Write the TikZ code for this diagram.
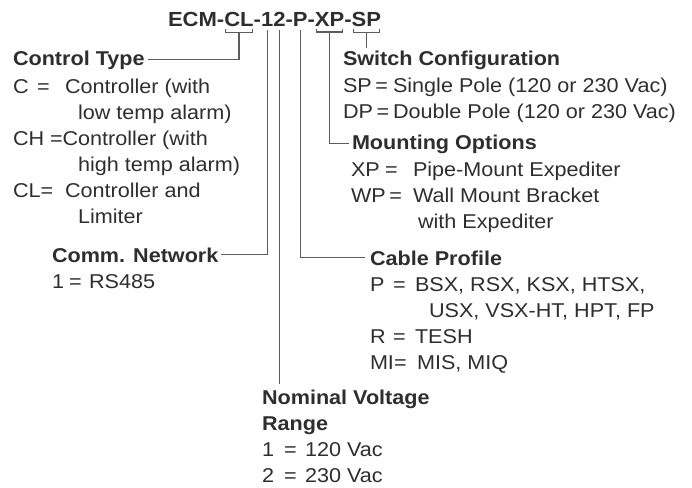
\documentclass[tikz,border=0pt]{standalone}
\usepackage{fontspec}
\setmainfont{Liberation Sans}
\usetikzlibrary{calc}
\definecolor{ink}{HTML}{2E2E2E}
\definecolor{wire}{HTML}{5C5C5C}
\begin{document}
\begin{tikzpicture}[x=1pt,y=-1pt,
  txt/.style={anchor=base west,inner sep=0pt,outer sep=0pt,xscale=1.08,text=ink,
    font=\fontsize{20}{22}\selectfont},
  hd/.style={txt,font=\bfseries\fontsize{20}{22}\selectfont},
  code/.style={txt,font=\bfseries\fontsize{20.4}{22}\selectfont},
  wire/.style={draw=wire,line width=1.2pt}]
  \useasboundingbox (0,0) rectangle (692,487);
  \node[code] (E)  at (168,27)      {ECM-};
  \node[code] (CL) at (E.base east)  {CL};
  \node[code] (d1) at (CL.base east) {-};
  \node[code] (n1) at (d1.base east) {1};
  \node[code] (n2) at (n1.base east) {2};
  \node[code] (d2) at (n2.base east) {-};
  \node[code] (P)  at (d2.base east) {P};
  \node[code] (d3) at (P.base east)  {-};
  \node[code] (XP) at (d3.base east) {XP};
  \node[code] (d4) at (XP.base east) {-};
  \node[code] (SP) at (d4.base east) {SP};
  \node[hd] (ct) at (13,65)  {Control Type};
  \node[hd] (cn) at (52,262) {Comm. Network};
  \node[hd] (sc) at (343,65) {Switch Configuration};
  \node[hd] (mo) at (352,149) {Mounting Options};
  \node[hd] (cp) at (370,265) {Cable Profile};
  \node[hd] (nv) at (262,404) {Nominal Voltage};
  \node[hd] (rg) at (262,430) {Range};
  \foreach \x/\y/\t [count=\i] in {13/93/C, 37/93/=, 65/93/{Controller (with},
      78/119/{low temp alarm)}, 13/145/CH, 50/145/{=Controller (with},
      78/171/{high temp alarm)}, 13/197/CL=, 65/197/{Controller and},
      78/223/Limiter, 52/288/1, 69/288/=, 89/288/RS485}
    \node[txt] (L\i) at (\x,\y) {\t};
  \foreach \x/\y/\t [count=\i] in {343/92/SP\,=, 393/92/{Single Pole (120 or 230 Vac)},
      343/118/DP\,=, 393/118/{Double Pole (120 or 230 Vac)},
      351/176/XP, 385/176/=, 413/176/{Pipe-Mount Expediter},
      351/202/WP\,=, 413/202/{Wall Mount Bracket}, 418/228/{with Expediter},
      370/291/P, 393/291/=, 415/291/{BSX, RSX, KSX, HTSX,},
      429/317/{USX, VSX-HT, HPT, FP},
      370/343/R, 393/343/=, 415/343/TESH,
      370/369/MI=, 417/369/{MIS, MIQ}}
    \node[txt] (R\i) at (\x,\y) {\t};
  \foreach \y [count=\i] in {456,482}
    \node[txt] (V\i) at (262,\y) {\i};
  \foreach \y [count=\i] in {456,482}
    \node[txt] (Q\i) at (284,\y) {=};
  \node[txt] (W1) at (305,456) {120 Vac};
  \node[txt] (W2) at (305,482) {230 Vac};
  \draw[wire] ($(CL.south west)+(1.5,2)$) -- ++(0,3) -| ($(CL.south east)+(-1.5,2)$);
  \draw[wire] ($(CL.south)+(0,5)$) |- ([xshift=3pt]ct.east);
  \draw[wire] ($(n1.south)+(0,3)$) |- ([xshift=3pt]cn.east);
  \draw[wire] ($(n2.south)+(0,3)$) -- ($(nv.north -| n2.south)+(0,-6)$);
  \draw[wire] ($(P.south)+(0,3)$) |- ([xshift=-5pt]cp.west);
  \draw[wire] ($(XP.south west)+(1.5,2)$) -- ++(0,3) -| ($(XP.south east)+(-1.5,2)$);
  \draw[wire] ($(XP.south)+(0,5)$) |- ([xshift=-3pt]mo.west);
  \draw[wire] ($(SP.south west)+(1.5,2)$) -- ++(0,3) -| ($(SP.south east)+(-1.5,2)$);
  \draw[wire] ($(SP.south)+(0,5)$) -- ($(sc.north -| SP.south)+(0,-3)$);
\end{tikzpicture}
\end{document}
